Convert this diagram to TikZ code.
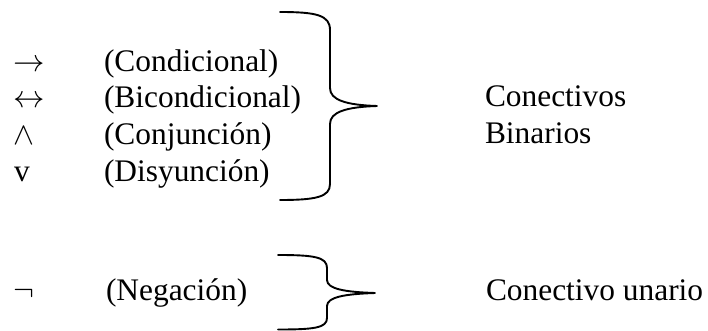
\documentclass[tikz,border=0pt]{standalone}
\usepackage{fontspec}
\setmainfont{Liberation Serif}
\newcommand{\bigsym}[1]{\scalebox{3.14}{\fontsize{10}{12}\selectfont$#1$}}
\begin{document}
\begin{tikzpicture}[x=1pt,y=-1pt,
  lbl/.style={anchor=base west,inner sep=0pt,outer sep=0pt,font=\fontsize{31.4}{36}\selectfont},
  brace/.style={line width=1.9pt,line cap=round,line join=round}]
\useasboundingbox (0,0) rectangle (708,331);
% symbols
\node[lbl] (s1) at (13,71.5) {\bigsym{\rightarrow}};
\node[lbl] (s2) at (13,108) {\bigsym{\leftrightarrow}};
\node[lbl] (s3) at (13,144.5) {\bigsym{\wedge}};
\node[lbl] (s4) at (14,181) {v};
\node[lbl] (s5) at (13,300) {\bigsym{\neg}};
% names
\node[lbl] (n1) at (104,71.5) {(Condicional)};
\node[lbl] (n2) at (104,108) {(Bicondicional)};
\node[lbl] (n3) at (104,144.5) {(Conjunción)};
\node[lbl] (n4) at (104,181) {(Disyunción)};
\node[lbl] (n5) at (106,300) {(Negación)};
% groups
\node[lbl] (g1) at (485,107) {Conectivos};
\node[lbl] (g2) at (485,143) {Binarios};
\node[lbl] (g3) at (486,300) {Conectivo unario};
% brace 1
\coordinate (b1t) at (280,12);
\coordinate (b1m) at (377,106);
\coordinate (b1b) at (280,200);
\draw[brace] (b1t) .. controls (316,12) and (330,15) .. (330,30) -- (330,88)
  .. controls (330,100) and (346,105) .. (b1m)
  .. controls (346,107) and (330,112) .. (330,124) -- (330,184)
  .. controls (330,197) and (316,200) .. (b1b);
% brace 2
\coordinate (b2t) at (278,255);
\coordinate (b2m) at (375,293);
\coordinate (b2b) at (278,329.5);
\draw[brace] (b2t) .. controls (314,255) and (327,257) .. (327,268) -- (327,280)
  .. controls (327,289) and (345,292) .. (b2m)
  .. controls (345,294) and (327,297) .. (327,306) -- (327,318)
  .. controls (327,328) and (314,329.5) .. (b2b);
\end{tikzpicture}
\end{document}
